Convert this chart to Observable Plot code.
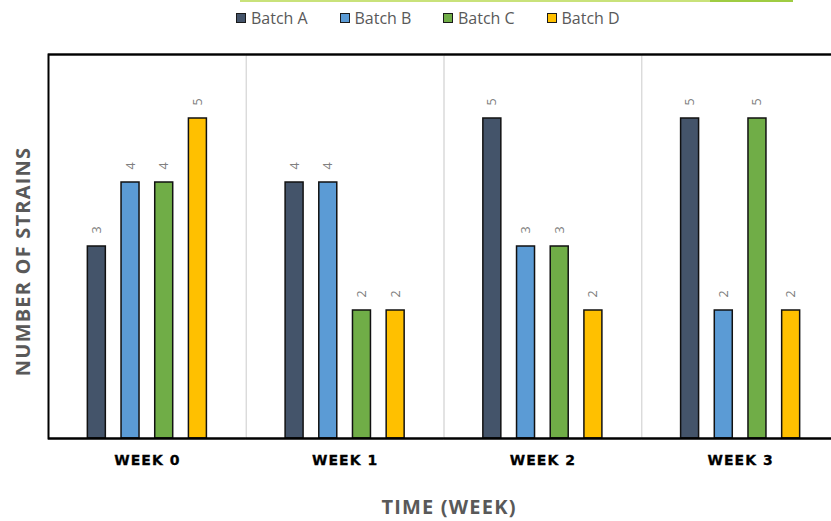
<!DOCTYPE html>
<html>
<head>
<meta charset="utf-8">
<script src="https://cdn.jsdelivr.net/npm/d3@7"></script>
<script src="https://cdn.jsdelivr.net/npm/@observablehq/plot@0.6"></script>
<style>
  html, body { margin: 0; padding: 0; background: #fff; }
  #wrap { width: 831px; height: 521px; overflow: hidden; position: relative; }
  #chart svg { max-width: none !important; display: block; }
  #legend { position: relative; height: 36px; font-family: "Open Sans", sans-serif; }
  #legend .topline {
    position: absolute; left: 240px; top: 0; width: 553px; height: 2px;
    background: linear-gradient(to right, #c9e27a 0, #c9e27a 85%, #9fcc42 85%, #9fcc42 100%);
  }
  #legend .items { position: absolute; left: 236px; top: 7px; display: flex; }
  #legend .item { width: 103.5px; display: flex; align-items: center; height: 22px; }
  #legend .sw { width: 10px; height: 10px; box-sizing: border-box; border: 1.5px solid #1a1a1a; }
  #legend .lab { margin-left: 5px; font-size: 16px; color: #595959; white-space: nowrap; }
  svg g[aria-label="fx-axis tick label"] text {
    font-family: "DejaVu Sans", sans-serif; font-weight: bold; font-size: 14px;
    letter-spacing: 1px; fill: #000; stroke: #000; stroke-width: 0.3px;
  }
  svg g[aria-description="axis title"] text { letter-spacing: 1.2px; }
</style>
</head>
<body>
<div id="wrap">
  <div id="legend"><div class="topline"></div><div class="items"></div></div>
  <div id="chart"></div>
</div>
<script>
// Strain counts per batch, sampled weekly
const weeks = ["WEEK 0", "WEEK 1", "WEEK 2", "WEEK 3"];
const batches = ["Batch A", "Batch B", "Batch C", "Batch D"];
const batchA = [3, 4, 5, 5];
const batchB = [4, 4, 3, 2];
const batchC = [4, 2, 3, 5];
const batchD = [5, 2, 2, 2];
const xTitle = "TIME (WEEK)";
const yTitle = "NUMBER OF STRAINS";

const palette = ["#44546a", "#5b9bd5", "#70ad47", "#ffc000"];
const series = [batchA, batchB, batchC, batchD];

const rows = [];
weeks.forEach((week, i) => {
  batches.forEach((batch, j) => rows.push({week, batch, count: series[j][i]}));
});

// Legend above the chart
const items = d3.select("#legend .items");
batches.forEach((b, i) => {
  const it = items.append("div").attr("class", "item");
  it.append("div").attr("class", "sw").style("background", palette[i]);
  it.append("div").attr("class", "lab").text(b);
});

const titleStyle = {
  facet: "super", fontFamily: "Open Sans", fontWeight: "bold", fontSize: 20,
  fill: "#595959", textAnchor: "middle", lineAnchor: "middle", ariaDescription: "axis title"
};

const chart = Plot.plot({
  width: 839,
  height: 485,
  marginLeft: 48,
  marginRight: 0,
  marginTop: 18,
  marginBottom: 83,
  fx: {domain: weeks, padding: 0, round: false},
  x: {domain: batches, paddingInner: 0.466, paddingOuter: 1.168, round: false, axis: null},
  y: {domain: [0, 6], axis: null},
  color: {domain: batches, range: palette},
  marks: [
    Plot.frame({stroke: "#d9d9d9", strokeWidth: 1}),
    Plot.barY(rows, {fx: "week", x: "batch", y: "count", fill: "batch", stroke: "#111", strokeWidth: 1.5}),
    Plot.text(rows, {
      fx: "week", x: "batch", y: "count", text: d => String(d.count),
      rotate: -90, textAnchor: "start", lineAnchor: "middle", dy: -13,
      fill: "#808080", fontSize: 12.5, fontFamily: "Open Sans"
    }),
    Plot.ruleY([0], {stroke: "#000", strokeWidth: 2}),
    Plot.ruleY([6], {stroke: "#222", strokeWidth: 2}),
    Plot.frame({facet: "super", stroke: "#000", strokeWidth: 2, fill: "none"}),
    Plot.axisFx({anchor: "bottom", tickSize: 0, tickPadding: 17, label: null}),
    Plot.text([xTitle], {...titleStyle, frameAnchor: "bottom", dx: 5, dy: 69}),
    Plot.text([yTitle], {...titleStyle, frameAnchor: "left", rotate: -90, dx: -25, dy: 15})
  ]
});
document.getElementById("chart").appendChild(chart);
</script>
</body>
</html>
